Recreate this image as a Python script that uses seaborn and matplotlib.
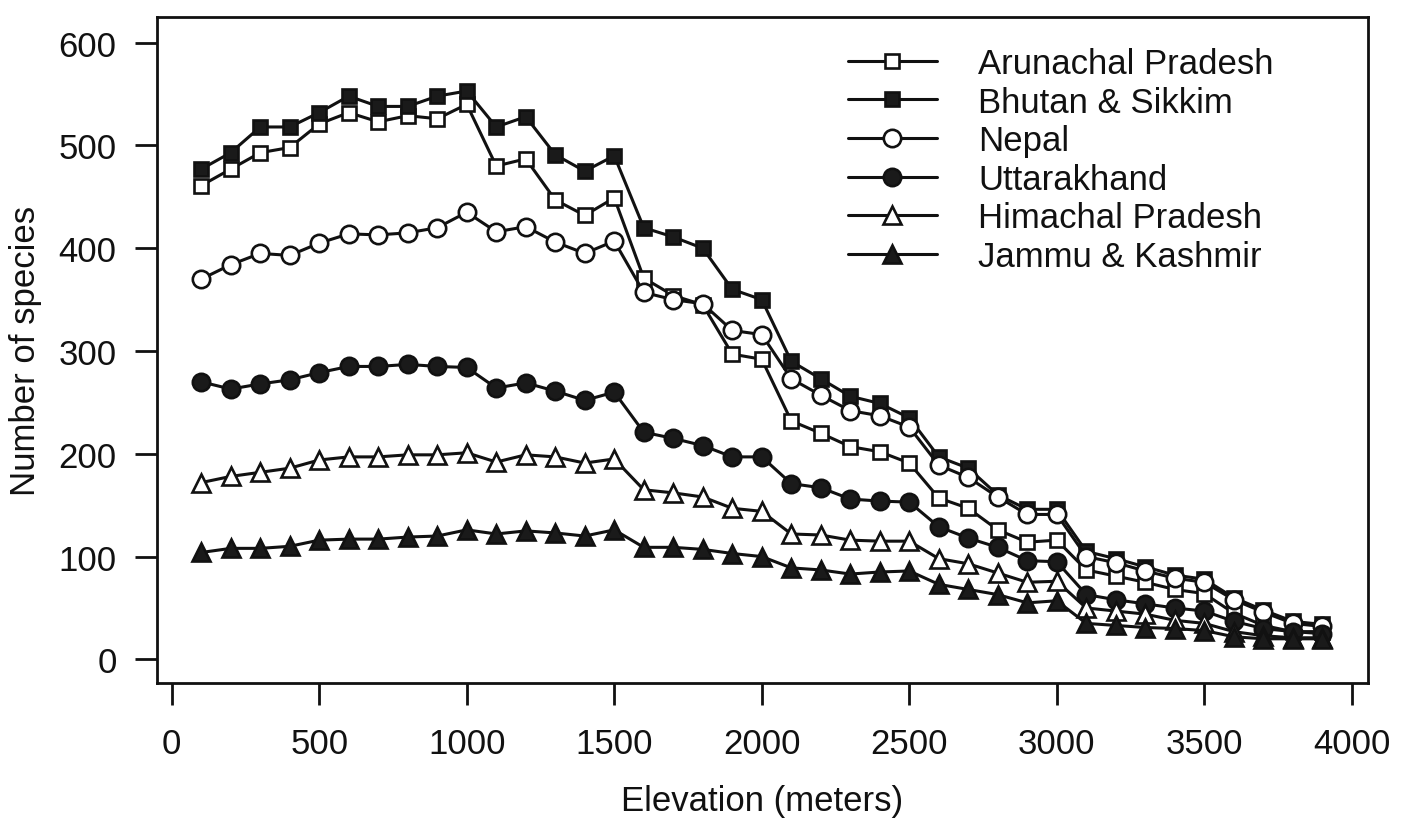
import numpy as np
import pandas as pd
import matplotlib
matplotlib.use("Agg")
import matplotlib.pyplot as plt
import seaborn as sns

elevation = list(range(100, 4000, 100))

arunachal = [461, 477, 493, 498, 521, 532, 523, 529, 526, 540,
             480, 487, 447, 432, 449, 371, 354, 345, 297, 292,
             232, 220, 207, 202, 191, 157, 147, 126, 114, 116,
             87, 81, 75, 68, 64, 45, 33, 27, 27]
bhutan = [477, 493, 518, 518, 532, 548, 538, 538, 548, 553,
          518, 528, 491, 475, 490, 420, 411, 400, 360, 350,
          290, 273, 256, 249, 235, 197, 186, 160, 146, 146,
          105, 98, 90, 82, 78, 60, 48, 37, 34]
nepal = [370, 384, 395, 393, 405, 414, 413, 415, 420, 435,
         416, 421, 406, 395, 407, 357, 350, 346, 320, 316,
         273, 257, 242, 237, 226, 189, 177, 158, 141, 141,
         100, 94, 86, 79, 75, 58, 46, 35, 32]
uttarakhand = [270, 263, 268, 272, 279, 285, 285, 287, 285, 284,
               264, 269, 261, 252, 260, 221, 215, 208, 197, 197,
               171, 167, 156, 154, 153, 129, 118, 109, 96, 95,
               63, 58, 54, 50, 47, 37, 30, 27, 25]
himachal = [172, 178, 182, 186, 194, 197, 197, 199, 199, 201,
            192, 199, 197, 191, 195, 165, 162, 158, 147, 144,
            122, 121, 116, 115, 115, 98, 93, 84, 75, 76,
            50, 47, 44, 38, 35, 27, 23, 21, 21]
jammu = [104, 108, 108, 110, 116, 117, 117, 119, 120, 126,
         122, 125, 123, 120, 126, 109, 109, 107, 103, 100,
         89, 87, 83, 85, 86, 73, 68, 63, 55, 57,
         35, 33, 31, 30, 28, 22, 20, 20, 20]

series_names = ["Arunachal Pradesh", "Bhutan & Sikkim", "Nepal",
                "Uttarakhand", "Himachal Pradesh", "Jammu & Kashmir"]
series_values = [arunachal, bhutan, nepal, uttarakhand, himachal, jammu]
x_ticks = [0, 500, 1000, 1500, 2000, 2500, 3000, 3500, 4000]
y_ticks = [0, 100, 200, 300, 400, 500, 600]

styles = {
    "Arunachal Pradesh": dict(marker="s", mfc="white", ms=10.5),
    "Bhutan & Sikkim": dict(marker="s", mfc="#1a1a1a", ms=10.5),
    "Nepal": dict(marker="o", mfc="white", ms=12.5),
    "Uttarakhand": dict(marker="o", mfc="#1a1a1a", ms=12.5),
    "Himachal Pradesh": dict(marker="^", mfc="white", ms=13),
    "Jammu & Kashmir": dict(marker="^", mfc="#1a1a1a", ms=13),
}

df = pd.concat([pd.DataFrame({"Elevation": elevation, "Species": v, "Region": n})
                for n, v in zip(series_names, series_values)], ignore_index=True)

sns.set_style("ticks")
plt.rcParams["font.family"] = ["Liberation Sans", "DejaVu Sans"]

fig = plt.figure(figsize=(14.15, 8.2), dpi=100)
ax = fig.add_axes([157/1415, 1 - 684/820, (1368-157)/1415, (684-18)/820])

for name in series_names:
    st = styles[name]
    sub = df[df["Region"] == name]
    sns.lineplot(data=sub, x="Elevation", y="Species", ax=ax, color="#111111",
                 linewidth=2.2, marker=st["marker"], markersize=st["ms"],
                 markerfacecolor=st["mfc"], markeredgecolor="#111111",
                 markeredgewidth=1.9, label=name, legend=False)

ax.set_xlim(-50, 4055)
ax.set_ylim(-23, 625)
ax.set_xticks(x_ticks)
ax.set_yticks(y_ticks)
for s in ax.spines.values():
    s.set_linewidth(2.0)
    s.set_color("#111111")
ax.tick_params(axis="both", length=16, width=2.0, color="#111111",
               labelsize=25, labelcolor="#111111")
ax.tick_params(axis="x", pad=16)
ax.tick_params(axis="y", pad=13)
ax.set_xlabel("Elevation (meters)", fontsize=25, color="#111111", labelpad=17)
ax.set_ylabel("Number of species", fontsize=25, color="#111111", labelpad=12)

handles, labels = ax.get_legend_handles_labels()
fig.legend(handles, labels, loc="upper left",
           bbox_to_anchor=(848/1415, 1 - 48/820), frameon=False,
           fontsize=25, handlelength=2.55, handletextpad=1.2,
           labelspacing=0.16, borderpad=0, borderaxespad=0,
           labelcolor="#111111")

fig.savefig("out.png", dpi=100, facecolor="white")
